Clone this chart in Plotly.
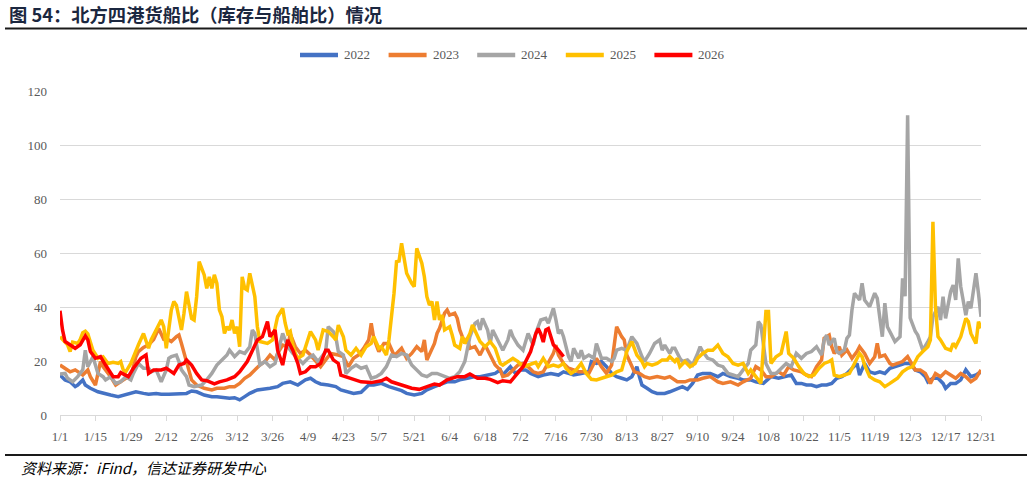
import plotly.graph_objects as go

# ---------------- data (day-of-year index, value) ----------------
tick_days = list(range(0, 365, 14))
tick_labels = ["1/1", "1/15", "1/29", "2/12", "2/26", "3/12", "3/26", "4/9", "4/23",
               "5/7", "5/21", "6/4", "6/18", "7/2", "7/16", "7/30", "8/13", "8/27",
               "9/10", "9/24", "10/8", "10/22", "11/5", "11/19", "12/3", "12/17", "12/31"]

days_2022 = [0, 2, 4, 6, 7, 9, 10, 12, 15, 17, 20, 23, 25, 27, 30, 33, 35, 38, 40, 43,
             46, 48, 50, 52, 54, 57, 60, 62, 65, 67, 69, 71, 73, 75, 78, 81, 83, 86, 88, 91,
             94, 97, 99, 101, 103, 106, 109, 111, 114, 116, 119, 122, 124, 127, 130, 132, 135, 137, 140, 143,
             145, 148, 151, 153, 156, 158, 161, 164, 166, 169, 172, 174, 175, 178, 180, 182, 184, 186, 189, 191,
             194, 197, 199, 201, 203, 206, 209, 210, 212, 214, 216, 218, 220, 222, 224, 226, 228, 229, 230, 232,
             234, 236, 239, 241, 244, 246, 248, 250, 252, 254, 257, 260, 262, 265, 268, 270, 273, 275, 278, 281,
             284, 286, 289, 291, 293, 295, 297, 299, 301, 303, 305, 307, 309, 311, 313, 315, 316, 318, 320, 322,
             324, 326, 328, 330, 332, 334, 336, 338, 340, 342, 343, 345, 347, 349, 350, 352, 354, 356, 358, 360,
             362, 364]
vals_2022 = [14.8, 13, 12.3, 10.5, 11.1, 13, 11.1, 9.9, 8.6, 8, 7.4, 6.8, 7.4, 8, 8.6, 8, 7.7, 8, 7.7, 7.7,
             7.8, 8, 8, 8.9, 8.6, 7.4, 6.8, 6.8, 6.4, 6.2, 6.4, 5.6, 6.8, 8, 9.3, 9.5, 9.9, 10.5, 11.7, 12.3,
             11.1, 13, 13.6, 12.3, 11.5, 11.1, 10.5, 9.3, 8.4, 8, 8.4, 11.1, 11.1, 11.7, 10.5, 9.9, 9, 8, 7.4, 8,
             9.3, 10.5, 11.7, 12.3, 12.3, 13, 13.6, 14.2, 14.2, 14.8, 15.4, 16.7, 14.8, 17.9, 15.4, 16.7, 16.7, 15.4, 14.2, 14.8,
             15.4, 14.8, 16, 15.4, 14.8, 15.4, 16, 19.8, 19.1, 19.8, 17.9, 15.4, 14.2, 13.6, 13, 14.2, 17.9, 14.2, 11.1, 9.9,
             8.6, 8, 8, 8.6, 9.9, 10.5, 9.5, 11.7, 14.8, 15.4, 15.4, 14.2, 15.4, 14.2, 13.6, 13, 13, 12.3, 11.7, 14.2,
             13.6, 14.2, 14.8, 11.7, 11.7, 11.1, 11.1, 10.5, 11.1, 11.1, 11.7, 13.6, 14.2, 15.4, 17.3, 19.1, 14.8, 19.1, 16, 15.4,
             16, 15.4, 17.3, 17.9, 18.5, 19.1, 19.1, 16.7, 16, 14.2, 12.3, 13.6, 13.6, 11.7, 9.9, 11.7, 11.7, 13, 16.7, 14.2,
             14.8, 16]

days_2023 = [0, 2, 4, 6, 9, 11, 12, 14, 16, 17, 19, 20, 22, 24, 26, 28, 30, 31, 33, 35,
             37, 39, 41, 43, 44, 46, 47, 48, 50, 51, 52, 54, 57, 60, 62, 65, 67, 69, 71, 73,
             75, 77, 79, 81, 83, 85, 86, 88, 90, 91, 93, 95, 97, 99, 101, 103, 105, 107, 110, 112,
             114, 116, 118, 120, 122, 123, 124, 126, 128, 130, 132, 133, 135, 137, 139, 141, 143, 144, 145, 147,
             148, 149, 150, 152, 153, 154, 156, 157, 158, 160, 161, 162, 164, 166, 168, 170, 172, 174, 175, 177,
             179, 181, 183, 185, 187, 189, 191, 193, 195, 196, 197, 199, 201, 203, 205, 207, 209, 211, 212, 214,
             216, 218, 219, 220, 222, 223, 224, 226, 227, 229, 231, 233, 236, 239, 241, 244, 247, 249, 252, 254,
             257, 260, 262, 265, 268, 270, 273, 275, 277, 279, 281, 284, 286, 288, 290, 293, 295, 297, 299, 301,
             302, 304, 305, 306, 308, 309, 311, 313, 315, 316, 318, 320, 322, 323, 324, 326, 328, 329, 331, 333,
             335, 336, 338, 340, 342, 344, 346, 348, 350, 352, 354, 356, 358, 360, 362, 364]
vals_2023 = [18.5, 17.3, 16, 16.7, 14.8, 16.7, 14.2, 11.1, 19.8, 17.9, 15.4, 14.2, 11.1, 12.3, 13.6, 14.2, 21.6, 23.5, 25, 26,
             28, 32, 28, 27.8, 27.2, 29, 29.6, 26.5, 19.8, 15.4, 13, 11.1, 9.9, 9.3, 9.9, 9.9, 10.5, 10.5, 11.7, 13.6,
             14.8, 16.7, 18.5, 19.8, 22.2, 20.4, 22.8, 25.9, 25.3, 30, 25.3, 22.8, 24, 22.2, 19.8, 17.9, 20.4, 22.8, 22.2, 21.6,
             17.9, 21, 22.2, 24.7, 27.8, 34, 28.4, 23.5, 26.5, 26.5, 22.2, 22.8, 24.7, 21, 22.8, 25.3, 23.5, 27.8, 20.4, 24.7,
             26.5, 30.2, 32.1, 37.7, 38.9, 37, 37.7, 35.8, 31.5, 26.5, 28.4, 24.7, 25.3, 22.2, 25.9, 22.2, 18.5, 16.7, 14.2, 14.8,
             16.7, 18.5, 19.1, 17.9, 16, 15.4, 16, 19.1, 22.8, 25.9, 22.2, 19.1, 17.3, 16.7, 16, 16, 15.4, 19.1, 21, 17.9,
             15.4, 18.5, 26.5, 32.7, 29, 27.8, 22.2, 18.5, 16, 15.4, 14.2, 13.6, 14.2, 13.6, 14.2, 12.3, 12.3, 13, 13, 13.6,
             14.2, 12.3, 11.7, 12.3, 11.1, 12.3, 13.6, 17.9, 16.7, 14.2, 14.2, 16, 14.8, 17.9, 16.7, 16, 14.8, 14.2, 17.9, 20.4,
             28.4, 29.6, 25.3, 22.8, 25.3, 22.2, 24.1, 21, 23.5, 25.3, 22.8, 19.1, 21.6, 26.5, 21.6, 22.2, 19.1, 18.5, 19.1, 19.8,
             21.6, 19.8, 16.7, 16.7, 15.4, 11.7, 15.4, 14.2, 16, 14.8, 13.6, 15.4, 14.2, 12.3, 13.6, 16.7]

days_2024 = [0, 2, 3, 5, 7, 9, 10, 11, 13, 15, 17, 18, 20, 22, 24, 26, 28, 29, 31, 33,
             35, 36, 38, 40, 42, 43, 44, 46, 47, 48, 50, 51, 53, 56, 58, 60, 62, 64, 66, 67,
             69, 71, 73, 75, 76, 77, 78, 79, 81, 83, 85, 87, 88, 90, 92, 94, 96, 98, 100, 102,
             105, 106, 108, 109, 110, 112, 113, 115, 117, 119, 121, 123, 125, 127, 129, 131, 133, 135, 137, 139,
             141, 143, 145, 147, 149, 151, 153, 154, 156, 158, 160, 161, 162, 164, 165, 166, 167, 169, 170, 171,
             173, 175, 177, 178, 179, 181, 183, 185, 187, 188, 190, 192, 193, 195, 196, 197, 198, 199, 201, 202,
             203, 205, 206, 207, 209, 211, 212, 214, 216, 218, 219, 220, 222, 224, 226, 228, 230, 231, 233, 235,
             237, 238, 239, 241, 242, 243, 245, 246, 248, 250, 252, 253, 254, 256, 258, 260, 262, 264, 266, 268,
             270, 272, 273, 275, 276, 277, 279, 281, 283, 285, 287, 289, 291, 293, 295, 297, 299, 301, 302, 303,
             304, 306, 307, 308, 310, 311, 312, 313, 314, 316, 317, 318, 320, 322, 323, 325, 326, 327, 329, 330,
             332, 333, 334, 335, 336, 338, 339, 340, 341, 343, 344, 345, 347, 348, 349, 350, 352, 353, 354, 355,
             356, 358, 359, 360, 362, 363, 364]
vals_2024 = [15.2, 15.4, 13.6, 12.3, 14.2, 16.7, 24, 17.9, 21.6, 15.4, 14.2, 13, 14.2, 11.7, 12.3, 14.2, 13, 15.4, 19.1, 17.3,
             17.3, 16, 16.7, 12.3, 16.7, 21, 21.6, 22.2, 19.8, 16.7, 14.2, 11.1, 10.5, 11.1, 13, 15.4, 18.5, 20.4, 22.2, 24,
             21.6, 23.5, 22.8, 25.3, 31.5, 30.2, 23.5, 18.5, 19.8, 17.9, 19.1, 25.9, 30.2, 25.3, 22.8, 21, 19.1, 21, 22.2, 19.8,
             23.5, 32.7, 30.9, 29, 23.5, 22.2, 15.4, 17.3, 18.5, 17.3, 17.9, 13.6, 14.2, 15.4, 17.9, 22.2, 21.6, 22.8, 22.2, 18.5,
             16.7, 14.8, 14.2, 15.4, 15.4, 14.8, 14.2, 13.6, 14.2, 16, 19.8, 24.7, 29, 33.9, 34.6, 31.5, 35.8, 31.5, 26.5, 31.5,
             27.8, 24, 27.8, 31.5, 29, 25.9, 24, 30.2, 25.9, 30.2, 35.2, 35.8, 34, 39.5, 35.2, 30.2, 31.5, 29, 21.6, 19.8,
             24.7, 21, 24, 21, 22.2, 21, 26.5, 21, 21, 19.8, 21, 24, 24.7, 24, 29, 26.5, 21.6, 19.8, 22.8, 26.5,
             27.8, 24, 25.9, 22.8, 24.7, 24.7, 21, 19.8, 20.4, 18.5, 22.8, 25.3, 23.5, 21, 20.4, 18.5, 17.9, 15.4, 14.8, 14.2,
             16.7, 19.1, 24, 25.9, 34.6, 33.3, 19.1, 15.4, 15.4, 17.3, 19.1, 17.9, 22.8, 21, 22.8, 23.5, 25.3, 22.2, 27.8, 29.6,
             25.9, 28.4, 23.5, 22.8, 24.1, 28.4, 29.6, 38.9, 45.1, 42.6, 48.8, 42.6, 40.1, 45.1, 43.2, 29, 41.4, 32.7, 29, 27.2,
             29, 50.6, 44, 111, 36, 31, 29.6, 27.2, 24, 27.2, 29, 36.4, 40.1, 35.2, 43.8, 35.8, 45.7, 48.1, 42.6, 58,
             47.5, 37, 42, 39.5, 52.5, 45.1, 36.4]

days_2025 = [0, 1, 3, 4, 5, 7, 8, 9, 10, 11, 13, 15, 17, 19, 21, 23, 24, 25, 26, 28,
             30, 31, 33, 35, 36, 38, 40, 41, 42, 44, 45, 46, 48, 49, 50, 52, 53, 54, 55, 57,
             58, 59, 60, 61, 62, 63, 64, 65, 66, 67, 68, 69, 70, 71, 72, 73, 74, 75, 77, 78,
             79, 82, 84, 86, 88, 89, 90, 91, 92, 93, 94, 96, 98, 99, 101, 102, 104, 106, 108, 109,
             110, 112, 113, 115, 117, 119, 121, 123, 124, 126, 127, 129, 130, 131, 132, 133, 134, 135, 136, 137,
             139, 140, 141, 143, 144, 145, 146, 147, 148, 149, 150, 151, 152, 154, 155, 156, 158, 159, 160, 162,
             163, 164, 166, 168, 170, 172, 173, 174, 175, 177, 179, 181, 183, 186, 188, 189, 191, 193, 195, 197,
             199, 200, 202, 204, 206, 208, 210, 212, 214, 216, 218, 220, 222, 224, 226, 227, 228, 230, 231, 232,
             234, 236, 238, 240, 241, 243, 244, 245, 247, 249, 251, 252, 254, 256, 258, 260, 262, 264, 266, 268,
             270, 272, 273, 275, 277, 279, 280, 281, 283, 285, 286, 287, 288, 290, 292, 294, 296, 298, 300, 302,
             304, 305, 306, 308, 310, 312, 314, 316, 317, 318, 320, 322, 324, 326, 328, 329, 331, 333, 335, 337,
             339, 341, 343, 344, 345, 346, 347, 348, 350, 352, 353, 354, 356, 358, 359, 360, 362, 363, 364]
vals_2025 = [29, 28, 26, 23.5, 27, 26.5, 28, 30.5, 31, 30, 24, 21, 21.6, 19.1, 19.5, 19.1, 19.8, 16.7, 16, 19.1,
             24, 26, 30.2, 24.7, 27.8, 31.5, 35.2, 32.7, 24.7, 38.9, 42, 40.7, 31.5, 37.7, 45.7, 35.8, 35.2, 43.8, 56.8, 51.9,
             46.9, 51.2, 46.9, 51.9, 48.8, 38.9, 36.4, 30.2, 32.7, 31.5, 35.2, 30.2, 32.7, 25.3, 51.2, 46.9, 46.3, 52.5, 43.8, 32.7,
             27.2, 26.5, 27.8, 36.4, 39.5, 34, 30.2, 31, 26, 22.8, 21, 22.2, 27.8, 30.9, 27.8, 24, 31.5, 30.9, 29, 27.8,
             33.3, 29, 24, 22.2, 24.7, 22.2, 25.3, 26.5, 29, 24.7, 25.3, 22.2, 27.8, 35.2, 45, 56.8, 57, 63.6, 58.6, 52.5,
             48.8, 47.5, 61.7, 56.2, 51.2, 43.8, 40.7, 42, 35.2, 42, 35.2, 37, 31.5, 32.7, 29.6, 25.9, 24.7, 29, 26.5, 30.2,
             33.3, 31.5, 27.2, 25.3, 27.2, 24.7, 21.6, 19.1, 18.5, 19.8, 21, 19.8, 17.9, 18.8, 19.5, 17.9, 21, 17.9, 18.5, 17.9,
             19.1, 17.3, 15.4, 16.7, 19.1, 15.4, 13.2, 13, 13.6, 14.2, 14.8, 16, 16.7, 23.5, 27.2, 24.7, 22.2, 19.8, 17.9, 19.1,
             18.5, 19.1, 20.4, 20.4, 21.6, 19.8, 21, 17.9, 19.8, 17.9, 19.1, 21, 22.8, 24, 24, 25.9, 22.8, 21.6, 19.1, 18.5,
             19.1, 15.4, 16.7, 14.2, 11.7, 38.3, 38.3, 19.1, 21.6, 22.8, 26.5, 30.9, 22.8, 21, 17.9, 15.4, 14.2, 14.8, 17.3, 19.1,
             19.8, 20.4, 14.8, 14.2, 14.8, 15.4, 19.1, 22.8, 21.6, 18.5, 14.2, 13, 12.3, 10.5, 11.7, 12.3, 13.6, 16, 17.3, 17.9,
             21.6, 23.5, 25.3, 27.8, 71.6, 40, 29, 27.8, 24.7, 24, 26.5, 25.3, 29, 35.8, 34.6, 30.2, 26.5, 34.6, 32.1]

days_2026 = [0, 1, 2, 4, 6, 8, 10, 11, 12, 14, 16, 18, 21, 23, 24, 27, 29, 32, 34, 35,
             37, 40, 42, 43, 45, 47, 49, 50, 52, 54, 56, 58, 61, 63, 66, 69, 71, 74, 76, 78,
             80, 82, 83, 85, 86, 88, 90, 92, 94, 95, 97, 99, 101, 103, 105, 106, 108, 110, 111, 113,
             116, 119, 123, 127, 129, 131, 135, 139, 142, 145, 148, 150, 153, 157, 160, 162, 165, 168, 170, 173,
             175, 178, 181, 183, 186, 188, 189, 190, 191, 192, 193, 194, 195, 197, 199]
vals_2026 = [38.6, 31.5, 27.2, 26, 24.7, 26, 29.3, 27.8, 23.5, 21, 21.6, 18.5, 14.2, 14.2, 15.7, 14.2, 17.3, 21, 22.2, 15.4,
             16.7, 16.7, 17.3, 16.7, 15.4, 18.5, 19.1, 20.4, 18.5, 15.4, 13, 12.7, 11.5, 12.3, 13, 14.2, 16, 19.8, 24, 27.8,
             29, 34.6, 29, 31.5, 24, 18.5, 27.8, 24, 19.1, 15.4, 16, 17.9, 17.9, 19.1, 24, 24, 20.4, 19.1, 14.8, 14.2,
             13.2, 12.3, 12, 12.7, 13.6, 12.3, 11.1, 9.9, 9.5, 10.5, 11.5, 11.1, 13, 14.2, 14.2, 15.2, 13.6, 13.6, 13.2, 12,
             12.7, 12.3, 15.4, 17.9, 23.5, 30, 32, 30, 27, 31.5, 32, 29, 26, 24, 21.6]

series_names = ["2022", "2023", "2024", "2025", "2026"]
series_colors = ["#4472C4", "#ED7D31", "#A5A5A5", "#FFC000", "#FF0000"]
series_days = [days_2022, days_2023, days_2024, days_2025, days_2026]
series_vals = [vals_2022, vals_2023, vals_2024, vals_2025, vals_2026]

title_text = "图 54：北方四港货船比（库存与船舶比）情况"
source_text = "资料来源：iFind，信达证券研发中心"

# ---------------- layout geometry ----------------
W, H = 1031, 481
ML, MR, MT, MB = 60, 50, 91, 66
PW, PH = W - ML - MR, H - MT - MB


def px(x):
    return (x - ML) / PW


def py(y):
    return (H - MB - y) / PH


fig = go.Figure()
for name, color, d, v in zip(series_names, series_colors, series_days, series_vals):
    fig.add_trace(go.Scatter(x=d, y=v, mode="lines", name=name,
                             line=dict(color=color, width=3.5), showlegend=False))

axis_font = dict(family="Liberation Serif, Times New Roman, serif", size=13, color="#595959")

shapes = [
    dict(type="line", xref="paper", yref="paper", x0=px(5), x1=px(1027), y0=py(28.5), y1=py(28.5),
         line=dict(color="#1a1a1a", width=2)),
    dict(type="line", xref="paper", yref="paper", x0=px(5), x1=px(1027), y0=py(455), y1=py(455),
         line=dict(color="#1a1a1a", width=2)),
]
annotations = [
    dict(text=title_text, xref="paper", yref="paper", x=px(7), y=py(14), xanchor="left", yanchor="middle",
         showarrow=False, font=dict(family="Noto Sans CJK SC", size=18.3, color="#1b2740", weight="bold")),
    dict(text=source_text, xref="paper", yref="paper", x=px(19), y=py(467), xanchor="left", yanchor="middle",
         showarrow=False, font=dict(family="Noto Sans CJK SC", size=15, color="#000000", style="italic")),
]

# legend (manual, centered above plot)
leg_x0 = 298
leg_step = 88.6
for i, (name, color) in enumerate(zip(series_names, series_colors)):
    x0 = leg_x0 + i * leg_step
    shapes.append(dict(type="line", xref="paper", yref="paper", x0=px(x0 + 2), x1=px(x0 + 40),
                       y0=py(55), y1=py(55), line=dict(color=color, width=4.5)))
    annotations.append(dict(text=name, xref="paper", yref="paper", x=px(x0 + 44), y=py(55),
                            xanchor="left", yanchor="middle", showarrow=False, font=axis_font))

fig.update_layout(
    width=W, height=H, autosize=False,
    margin=dict(l=ML, r=MR, t=MT, b=MB, pad=0),
    paper_bgcolor="white", plot_bgcolor="white",
    showlegend=False,
    shapes=shapes, annotations=annotations,
    xaxis=dict(range=[0, 364], tickmode="array", tickvals=tick_days, ticktext=tick_labels,
               ticks="outside", ticklen=5, tickcolor="#d9d9d9", showline=True, linecolor="#d9d9d9",
               linewidth=1, showgrid=False, zeroline=False, tickfont=axis_font, ticklabelstandoff=4),
    yaxis=dict(range=[0, 120], dtick=20, showgrid=True, gridcolor="#d9d9d9", gridwidth=1,
               zeroline=False, showline=False, tickfont=axis_font, ticklabelstandoff=12),
)

fig.write_html("out.html")
